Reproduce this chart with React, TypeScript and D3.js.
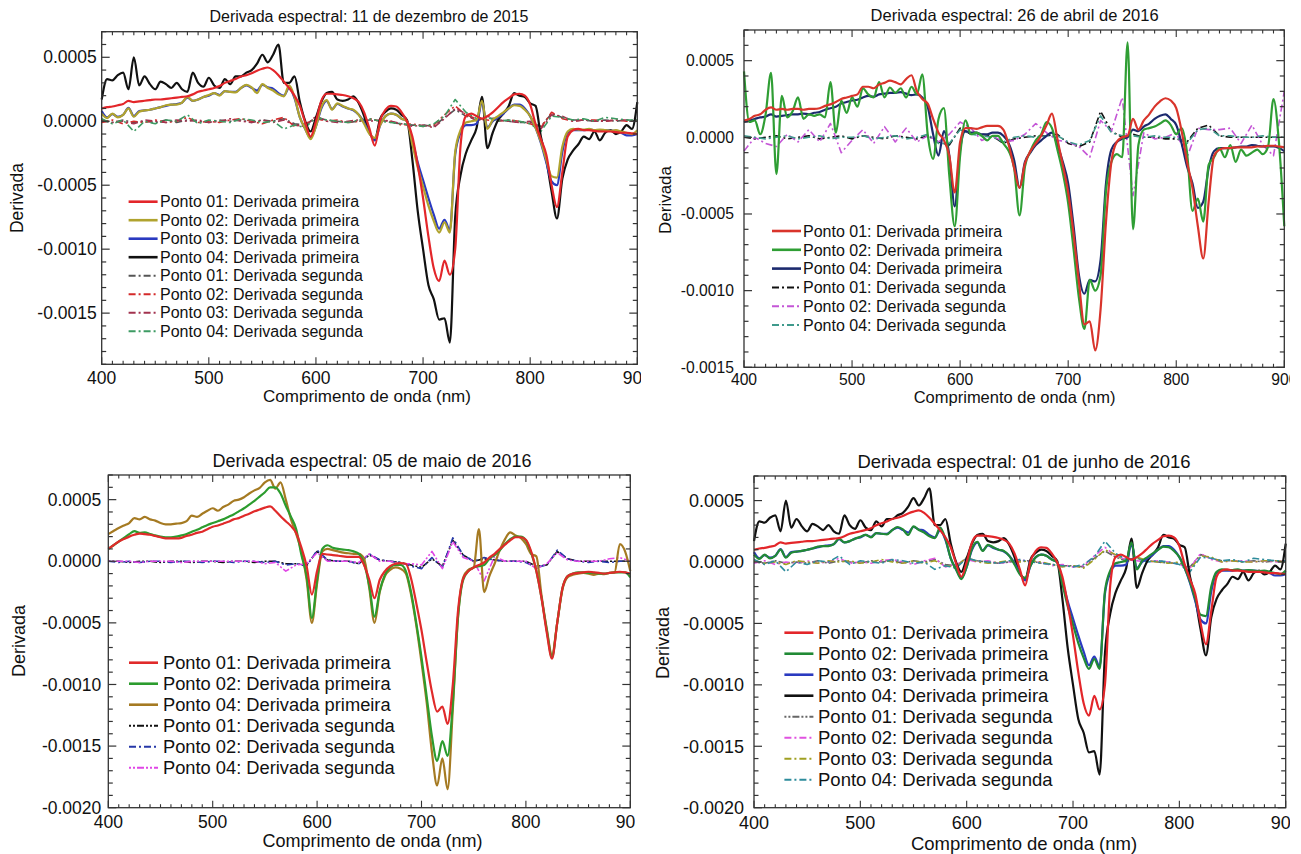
import React from 'react';
import * as d3 from 'd3';

// wavelength grids (nm)
const wavelength5 = [
  400, 405, 410, 415, 420, 425, 430, 435, 440, 445,
  450, 455, 460, 465, 470, 475, 480, 485, 490, 495,
  500, 505, 510, 515, 520, 525, 530, 535, 540, 545,
  550, 555, 560, 565, 570, 575, 580, 585, 590, 595,
  600, 605, 610, 615, 620, 625, 630, 635, 640, 645,
  650, 655, 660, 665, 670, 675, 680, 685, 690, 695,
  700, 705, 710, 715, 720, 725, 730, 735, 740, 745,
  750, 755, 760, 765, 770, 775, 780, 785, 790, 795,
  800, 805, 810, 815, 820, 825, 830, 835, 840, 845,
  850, 855, 860, 865, 870, 875, 880, 885, 890, 895,
  900,
];
const wavelength10 = [
  400, 410, 420, 430, 440, 450, 460, 470, 480, 490,
  500, 510, 520, 530, 540, 550, 560, 570, 580, 590,
  600, 610, 620, 630, 640, 650, 660, 670, 680, 690,
  700, 710, 720, 730, 740, 750, 760, 770, 780, 790,
  800, 810, 820, 830, 840, 850, 860, 870, 880, 890,
  900,
];

// all derivative values below are in units of 1e-4

// 11 de dezembro de 2015 (same curves shown again for 01 de junho de 2016)
const dez01First = [
  1.0, 1.1, 1.15, 1.25, 1.35, 1.6, 1.5, 1.55, 1.6, 1.65,
  1.7, 1.7, 1.75, 1.8, 1.85, 1.9, 1.95, 2.1, 2.3, 2.4,
  2.5, 2.6, 2.75, 3.0, 3.15, 3.3, 3.5, 3.6, 3.75, 3.95,
  4.1, 4.2, 4.0, 3.6, 3.1, 2.6, 2.0, 1.2, -0.1, -1.2,
  0.0, 1.6, 2.15, 2.15, 2.1, 2.05, 1.95, 1.8, 1.5, 0.7,
  -0.6, -1.9, 0.1, 0.9, 1.2, 1.15, 0.7, 0.0, -1.2, -3.4,
  -6.0, -9.0, -11.5, -12.5, -10.9, -12.0, -10.0, -1.9, 0.4, 0.6,
  0.4, 0.2, 0.4, 0.7, 1.1, 1.5, 1.8, 2.1, 2.15, 2.0,
  1.3, -0.2, -1.4, -2.6, -5.0, -6.7, -4.0, -1.2, -0.7, -0.6,
  -0.7, -0.7, -0.75, -0.8, -0.8, -0.8, -0.85, -0.9, -0.9, -0.95,
  -1.0,
];
const dez02First = [
  0.6, 0.25, 0.6, 0.3, 0.5, 1.0, 0.35, 0.75, 0.85, 0.9,
  1.0, 1.1, 1.25, 1.3, 1.3, 1.45, 1.9, 1.6, 1.7, 1.9,
  2.05, 2.2, 2.0, 2.35, 2.3, 2.25, 2.6, 2.85, 2.65, 2.2,
  2.9, 2.6, 2.4, 2.1, 1.95, 2.8, 1.9, 0.3, -0.6, -1.4,
  -0.4, 1.1, 1.65, 0.9, 1.4, 1.2, 1.0, 0.9, 0.5, -0.2,
  -1.0, -1.3, -0.3, 0.4, 0.6, 0.5, 0.2, 0.0, -1.8, -3.6,
  -5.1, -6.6, -7.8, -8.7, -7.9, -8.7, -2.4, -0.7, -0.1, 0.0,
  0.1, 1.6, -0.6, 0.1, 0.4, 0.7, 1.0, 1.25, 1.2, 0.9,
  0.4, -0.5, -1.6, -3.0, -4.3, -4.4, -2.0, -0.8, -0.6, -0.65,
  -0.65, -0.6, -0.7, -0.65, -0.7, -0.75, -0.7, -0.8, -0.9, -1.0,
  -0.7,
];
const dez03First = [
  0.8, 0.3, 0.55, 0.35, 0.5, 1.05, 0.4, 0.8, 0.85, 0.9,
  1.0, 1.1, 1.2, 1.3, 1.35, 1.45, 1.85, 1.6, 1.7, 1.9,
  2.0, 2.2, 2.05, 2.35, 2.3, 2.3, 2.6, 2.8, 2.6, 2.4,
  2.85, 2.65, 2.55, 2.2, 2.0, 2.6, 1.8, 0.3, -0.6, -1.3,
  -0.4, 1.0, 1.6, 0.95, 1.35, 1.15, 1.0, 0.85, 0.5, -0.1,
  -0.9, -1.5, -0.3, 0.4, 0.6, 0.5, 0.2, 0.0, -1.5, -3.2,
  -4.6, -6.0, -7.3, -8.4, -7.7, -8.5, -2.6, -0.9, -0.3, -0.3,
  -0.2, 1.5, -0.5, 0.0, 0.3, 0.6, 1.0, 1.3, 1.3, 1.0,
  0.4, -0.5, -1.7, -3.2, -4.7, -5.0, -2.4, -0.9, -0.7, -0.7,
  -0.7, -0.65, -0.7, -0.7, -0.7, -0.75, -0.75, -0.9, -1.1, -1.1,
  -1.0,
];
const dez04First = [
  1.7, 3.3, 3.2, 3.6, 3.8, 2.5, 5.0, 2.8, 3.5, 2.9,
  2.5, 3.1, 2.9, 2.6, 3.0, 2.5, 2.3, 3.8, 3.0, 2.7,
  3.4, 2.8, 2.6, 3.3, 2.9, 3.5, 3.5, 3.8, 4.0, 4.5,
  5.2, 4.6, 5.2, 6.0, 3.0, 3.0, 3.5, 1.5, 0.0, -0.8,
  0.3, 1.5, 2.2, 2.3, 1.7, 1.6, 1.7, 1.95, 1.4, 0.4,
  -0.9, -1.4, 0.2, 0.75, 1.0, 0.9, 0.5, 0.1, -3.0, -7.0,
  -10.0, -12.8, -13.9, -15.5, -15.4, -17.3, -7.5, -4.2, -2.5, -1.5,
  -0.5, 1.9, -2.1, -0.9, 0.1, 0.6, 1.2, 2.2, 2.0, 1.9,
  1.4, 1.2, -1.2, -3.0, -5.5, -7.6, -4.5, -3.0, -2.3, -1.8,
  -1.2, -1.4, -0.8, -1.5, -0.9, -0.7, -1.0, -0.8, -0.3, -0.6,
  1.5,
];
const dez01Second = [
  0.0, -0.1, 0.1, -0.1, 0.0, -0.1, 0.1, -0.1, 0.1, 0.0,
  -0.1, 0.1, 0.0, 0.1, -0.1, 0.1, 0.0, 0.2, -0.2, -0.3,
  0.3, 0.1, 0.0, -0.1, 0.0, 0.1, 0.1, -0.1, -0.2, -0.3,
  -0.3, -0.4, 0.3, 0.9, 0.4, 0.1, 0.3, 0.1, 0.0, -0.1,
  -0.1, -0.4, 0.6, 0.3, 0.1, 0.1, 0.0, 0.1, 0.0, 0.1,
  0.0,
];
const dez02Second = [
  -0.1, 0.1, -0.2, 0.0, -0.1, 0.1, -0.1, 0.0, 0.3, -0.1,
  0.0, -0.1, 0.1, 0.2, 0.0, -0.2, 0.1, 0.3, -0.4, -0.2,
  0.2, 0.0, 0.1, -0.1, 0.0, 0.2, 0.0, 0.0, -0.3, -0.2,
  -0.4, -0.3, 0.5, 1.2, 0.5, 0.2, 0.1, 0.0, 0.1, 0.0,
  -0.2, -0.5, 0.7, 0.2, 0.0, 0.1, 0.1, 0.0, 0.1, 0.0,
  0.1,
];
const dez03Second = [
  0.1, -0.1, 0.0, -0.2, 0.1, 0.0, -0.1, 0.1, 0.0, 0.1,
  -0.1, 0.0, 0.2, 0.0, -0.1, 0.1, -0.1, 0.1, -0.3, -0.4,
  0.4, 0.0, -0.1, 0.0, 0.1, 0.0, 0.1, 0.0, -0.2, -0.4,
  -0.3, -0.5, 0.2, 1.0, 0.6, 0.0, 0.4, 0.1, 0.0, -0.1,
  0.0, -0.6, 0.5, 0.4, 0.0, 0.1, 0.0, 0.0, 0.1, 0.1,
  0.0,
];
const dez04Second = [
  0.2, -0.2, 0.1, -0.8, 0.0, -0.2, 0.1, 0.0, 0.5, -0.2,
  0.1, 0.0, -0.1, 0.2, 0.1, -0.1, 0.0, -0.6, -0.3, -0.5,
  0.3, 0.1, 0.0, -0.1, 0.1, 0.2, 0.0, -0.1, -0.2, -0.3,
  -0.4, -0.2, 0.4, 1.7, 0.7, 0.2, 0.3, 0.0, 0.1, 0.0,
  -0.2, -0.8, 0.4, 0.3, 0.1, 0.2, 0.0, 0.3, 0.2, 0.1,
  0.1,
];

// 26 de abril de 2016
const abr01First = [
  1.1, 1.2, 1.4, 1.5, 1.8, 1.95, 1.8, 1.85, 1.8, 1.85,
  1.85, 1.8, 1.85, 1.85, 1.9, 2.05, 2.15, 2.3, 2.5, 2.6,
  2.7, 2.8, 3.3, 3.3, 3.2, 3.45, 3.55, 3.7, 3.6, 3.45,
  3.8, 4.05, 3.0, 2.5, 2.2, 1.2, 0.3, -0.2, -1.2, -3.6,
  -0.3, 0.6, 0.6, 0.55, 0.65, 0.75, 0.75, 0.75, 0.5, -0.5,
  -2.0, -3.3, -1.7, -0.9, -0.4, 0.1, 0.8, 1.55, -0.1, -1.8,
  -3.6, -6.3, -9.5, -12.2, -12.0, -13.9, -11.2, -5.5, -1.6, -0.3,
  0.0, 0.1, 1.2, 0.5, 1.1, 1.5, 2.0, 2.35, 2.55, 2.4,
  1.9, 0.4, -1.6, -3.3, -5.8, -7.9, -4.2, -1.2, -0.8, -0.7,
  -0.7, -0.65, -0.65, -0.65, -0.65, -0.6, -0.6, -0.55, -0.55, -0.6,
  -0.65,
];
const abr02First = [
  4.3, 1.0, 1.1, 0.2, 1.5, 4.2, -2.4, 2.7, 1.3, 1.7,
  2.6, 1.2, 1.5, 1.4, 1.5, 1.3, 3.6, 0.3, 2.4, 1.6,
  2.6, 2.0, 3.2, 2.8, 2.6, 3.6, 2.6, 3.25, 2.9, 3.2,
  2.6, 3.3, 2.8, 4.1, 0.2, -1.4, 1.2, 1.9, -2.5, -5.8,
  -1.2, 1.1, 0.2, 0.3, 0.1, -0.2, 0.1, 0.1, -0.4, -0.9,
  -2.0, -5.1, -1.9, -0.9, -0.2, 0.2, 1.0, 0.6, -0.8, -2.3,
  -4.3, -7.3, -10.5, -12.5, -9.3, -10.0, -9.0, -3.5, -1.6, -1.1,
  -1.3, 6.2, -6.0, -0.5, 0.5, 0.6, 0.7, 0.9, 1.1, 0.8,
  0.2, 0.6, -1.0, -4.8, -4.0, -5.5, -1.8, -1.3, -0.7, -1.3,
  -0.5, -1.6, -0.8, -1.2, -1.0, -0.8, -1.1, -0.6, 2.5, -0.3,
  -5.8,
];
const abr04First = [
  1.0, 1.1, 1.2, 1.3, 1.35, 1.5, 1.35, 1.4, 1.45, 1.5,
  1.5, 1.55, 1.5, 1.6, 1.65, 1.8, 1.9, 2.0, 2.2, 2.3,
  2.4, 2.45, 2.6, 2.7, 2.65, 2.8, 2.85, 2.9, 2.9, 2.95,
  2.85, 2.75, 2.8, 2.6, 2.0, 0.2, -1.2, 0.4, -1.2, -4.5,
  -0.8, 0.4, 0.3, 0.3, 0.2, 0.2, 0.3, 0.3, 0.1, -0.4,
  -1.5, -3.3, -1.6, -1.0, -0.5, -0.2, 0.1, 0.3, -0.5, -1.6,
  -3.0, -5.8, -9.0, -10.2, -9.3, -9.4, -8.0, -3.0, -0.8, -0.3,
  -0.1, 0.0, 0.5, 0.4, 0.7, 0.9, 1.2, 1.4, 1.5, 1.2,
  0.8, -0.4, -1.9, -3.0, -4.6, -4.2, -2.0, -0.9, -0.7, -0.7,
  -0.7, -0.65, -0.6, -0.6, -0.5, -0.55, -0.6, -0.6, -0.6, -0.7,
  -0.9,
];
const abr01Second = [
  0.0, -0.1, 0.0, 0.1, -0.1, 0.0, 0.1, -0.1, 0.0, 0.1,
  -0.1, 0.1, 0.0, -0.1, 0.1, 0.0, -0.1, 0.1, -0.3, -0.5,
  0.6, 0.2, 0.2, 0.1, -0.4, -0.1, 0.0, 0.1, 0.1, 0.2,
  -0.4, -0.6, -0.3, 1.7, 0.4, 0.0, 0.2, 0.0, 0.0, -0.1,
  -0.1, -0.3, 0.6, 0.8, 0.1, 0.0, 0.0, 0.0, 0.0, 0.0,
  0.0,
];
const abr02Second = [
  -0.9, 0.0, -0.4, -0.6, 0.2, -0.3, 0.5, -0.3, 0.9, -1.0,
  -0.2, 0.5, -0.4, 0.7, -0.3, 0.6, -0.3, 0.1, -0.3, 0.2,
  1.0, 0.6, -0.2, 0.1, -0.3, -0.2, 0.2, 0.9, 0.3, -0.2,
  -0.3, -0.6, -1.3, 1.1, 0.4, 2.6, -3.8, 0.3, -0.1, 0.0,
  0.3, -1.3, 0.6, 0.5, 0.5, 0.6, -0.4, 0.8, -0.5, -1.2,
  3.0,
];
const abr04Second = [
  0.1, 0.0, -0.1, 0.0, 0.1, -0.1, 0.0, 0.1, -0.1, 0.0,
  0.0, 0.1, -0.1, 0.0, 0.1, -0.1, 0.0, 0.2, -0.4, -0.4,
  0.5, 0.2, 0.1, 0.0, -0.3, 0.0, 0.1, 0.0, 0.1, 0.1,
  -0.3, -0.5, -0.2, 1.4, 0.3, 0.1, 0.1, 0.0, 0.1, 0.0,
  0.0, -0.4, 0.5, 0.6, 0.1, 0.1, 0.0, 0.0, 0.1, 0.0,
  0.0,
];

// 05 de maio de 2016
const mai01First = [
  1.0, 1.3, 1.6, 1.8, 2.0, 2.15, 2.25, 2.2, 2.15, 2.05,
  1.95, 1.85, 1.85, 1.85, 1.9, 2.05, 2.15, 2.3, 2.4, 2.6,
  2.8, 2.9, 3.05, 3.2, 3.4, 3.5, 3.7, 3.85, 4.05, 4.2,
  4.35, 4.45, 4.1, 3.65, 3.25, 2.85, 2.3, 1.1, -0.4, -2.7,
  -0.8, 0.6, 0.55, 0.5, 0.45, 0.4, 0.35, 0.35, 0.35, -0.3,
  -1.5, -3.0, -1.5, -0.8, -0.4, -0.2, -0.15, -0.2, -1.4, -3.4,
  -5.6, -8.2, -10.6, -12.2, -11.8, -13.2, -10.0, -4.0, -1.4, -0.8,
  -0.5, -0.3, -0.1, 0.3, 0.6, 1.0, 1.35, 1.7, 1.95, 1.95,
  1.75, 0.8, -0.8, -3.0, -5.8, -7.9, -5.0, -2.2, -1.2, -1.0,
  -0.95, -0.9, -0.85, -0.9, -0.95, -1.0, -0.95, -0.9, -0.85, -0.9,
  -1.0,
];
const mai02First = [
  1.0, 1.3, 1.6, 1.9, 2.2, 2.45, 2.3, 2.35, 2.2, 2.1,
  2.0, 1.95, 1.95, 2.0, 2.1, 2.2, 2.4, 2.55, 2.75, 2.95,
  3.1, 3.25, 3.4, 3.6, 3.8, 4.05, 4.3, 4.6, 4.9, 5.25,
  5.6, 6.0, 6.0, 5.5, 4.5, 3.6, 2.6, 0.5, -1.2, -4.6,
  -1.5, 1.0, 1.3, 1.1, 1.0, 0.95, 0.9, 0.8, 0.6, -0.2,
  -2.0, -4.5, -2.4, -1.1, -0.5, -0.3, -0.3, -0.8, -2.5, -5.0,
  -7.8, -11.0, -14.2, -16.2, -14.6, -15.8, -11.5, -4.5, -1.5, -0.8,
  -0.5, -0.4, -0.3, 0.2, 0.5, 0.9, 1.4, 1.8, 2.0, 2.0,
  1.7, 0.7, -0.8, -3.0, -5.6, -7.8, -5.0, -2.2, -1.2, -1.0,
  -0.9, -0.9, -0.95, -0.95, -1.0, -1.0, -0.95, -0.9, -0.9, -0.9,
  -1.3,
];
const mai04First = [
  2.2, 2.45, 2.7, 2.9, 3.1, 3.5, 3.4, 3.6, 3.4, 3.3,
  3.1, 3.0, 3.0, 3.05, 3.1, 3.25, 3.7, 3.6, 3.85, 4.1,
  4.3, 4.1, 4.4, 4.6, 4.9, 5.0, 5.2, 5.5, 5.75, 5.95,
  6.4, 6.6, 5.9, 6.4, 5.0, 3.4, 2.2, 0.8, -1.5, -5.0,
  -1.8, 0.8, 1.0, 0.9, 0.8, 0.7, 0.65, 0.6, 0.6, 0.2,
  -2.2, -5.0, -2.5, -1.2, -0.7, -0.5, -0.6, -1.0, -2.7, -5.2,
  -8.2, -11.5, -15.5, -18.2, -16.0, -18.5, -12.0, -4.5, -1.3, -0.7,
  -0.5, 2.6, -2.5, -1.2, -0.2, 0.9, 1.8, 2.35, 2.1, 1.9,
  1.4, 0.6, 0.4, -2.8, -5.5, -7.6, -5.0, -2.3, -1.3, -1.1,
  -1.0, -0.95, -1.0, -1.1, -1.0, -1.05, -0.95, -0.9, 1.4, 0.8,
  -0.8,
];
const mai01Second = [
  0.0, 0.0, -0.1, 0.0, 0.0, -0.1, 0.0, 0.0, -0.1, 0.0,
  0.0, -0.1, 0.0, 0.0, -0.1, 0.0, 0.0, -0.2, -0.2, -0.3,
  0.8, 0.1, 0.0, 0.0, -0.2, 0.5, 0.1, 0.0, -0.1, -0.3,
  -0.5, 0.2, -0.4, 1.7, 0.5, 0.0, 0.2, 0.1, 0.0, 0.0,
  0.0, -0.4, -0.3, 0.8, 0.2, 0.0, 0.0, 0.0, 0.0, 0.0,
  0.0,
];
const mai02Second = [
  0.0, -0.1, 0.0, -0.1, 0.0, 0.0, -0.1, 0.0, 0.0, -0.1,
  0.0, 0.0, -0.1, 0.0, 0.0, -0.1, 0.0, -0.3, -0.2, -0.4,
  0.9, 0.1, 0.0, 0.0, -0.2, 0.6, 0.1, 0.0, -0.1, -0.4,
  -0.6, 0.3, -0.5, 1.9, 0.5, 0.0, 0.3, 0.1, 0.0, 0.0,
  -0.1, -0.5, -0.3, 0.9, 0.2, 0.0, -0.1, 0.0, -0.1, 0.0,
  0.0,
];
const mai04Second = [
  0.0, 0.0, 0.0, -0.1, 0.0, 0.0, 0.0, -0.1, 0.0, 0.0,
  0.0, 0.0, 0.0, 0.0, 0.0, -0.2, -0.1, -0.8, -0.3, -0.2,
  0.7, 0.0, 0.0, 0.0, -0.1, 0.6, 0.0, 0.0, -0.2, -0.2,
  -0.3, 0.8, -0.6, 1.6, 0.3, 0.0, -1.6, 0.4, 0.0, 0.0,
  0.0, -0.6, -0.2, 0.7, 0.1, 0.0, 0.0, 0.0, 0.2, 0.3,
  0.0,
];

const dashDot = '7 3 2 3';
const dotDotDash = '2 2 2 2 7 2';

type Series = { label: string; color: string; values: number[]; second?: boolean; dash?: string };

type PanelDef = {
  id: string;
  title: string;
  left: number; right: number; top: number; bottom: number;
  yMin: number; yMax: number;
  titleX: number; titleY: number; titleSize: number;
  tickSize: number; yGap: number; xLabelDy: number; clipRight: number;
  xTitleX: number; xTitleY: number; xTitleSize: number;
  yTitleX: number; yTitleY: number; yTitleSize: number;
  legX: number; legText: number; legY: number; legStep: number; legSize: number;
  series: Series[];
};

const panels: PanelDef[] = [
  {
    id: 'p1', title: 'Derivada espectral: 11 de dezembro de 2015',
    left: 101.7, right: 637.3, top: 31.7, bottom: 364.3, yMin: -19, yMax: 7,
    titleX: 369, titleY: 22, titleSize: 16,
    tickSize: 17.5, yGap: 5, xLabelDy: 20, clipRight: 641,
    xTitleX: 367, xTitleY: 402, xTitleSize: 17,
    yTitleX: 17, yTitleY: 198, yTitleSize: 17.5,
    legX: 128.6, legText: 160, legY: 201.7, legStep: 18.5, legSize: 16,
    series: [
      { label: 'Ponto 01: Derivada primeira', color: '#e3262a', values: dez01First },
      { label: 'Ponto 02: Derivada primeira', color: '#b0a32e', values: dez02First },
      { label: 'Ponto 03: Derivada primeira', color: '#2a3ac0', values: dez03First },
      { label: 'Ponto 04: Derivada primeira', color: '#111111', values: dez04First },
      { label: 'Ponto 01: Derivada segunda', color: '#555555', values: dez01Second, second: true, dash: dashDot },
      { label: 'Ponto 02: Derivada segunda', color: '#d42a2a', values: dez02Second, second: true, dash: dashDot },
      { label: 'Ponto 03: Derivada segunda', color: '#a2334f', values: dez03Second, second: true, dash: dashDot },
      { label: 'Ponto 04: Derivada segunda', color: '#3d9b63', values: dez04Second, second: true, dash: dashDot },
    ],
  },
  {
    id: 'p2', title: 'Derivada espectral: 26 de abril de 2016',
    left: 744, right: 1284.3, top: 30, bottom: 367.3, yMin: -15, yMax: 7,
    titleX: 1014.6, titleY: 21, titleSize: 16.5,
    tickSize: 15.7, yGap: 10, xLabelDy: 18, clipRight: 1290,
    xTitleX: 1014.6, xTitleY: 403, xTitleSize: 16.5,
    yTitleX: 665, yTitleY: 200, yTitleSize: 17,
    legX: 772, legText: 803, legY: 231, legStep: 18.8, legSize: 16,
    series: [
      { label: 'Ponto 01: Derivada primeira', color: '#d9342b', values: abr01First },
      { label: 'Ponto 02: Derivada primeira', color: '#2f9e34', values: abr02First },
      { label: 'Ponto 04: Derivada primeira', color: '#1c2a6e', values: abr04First },
      { label: 'Ponto 01: Derivada segunda', color: '#111111', values: abr01Second, second: true, dash: dashDot },
      { label: 'Ponto 02: Derivada segunda', color: '#c455d6', values: abr02Second, second: true, dash: dashDot },
      { label: 'Ponto 04: Derivada segunda', color: '#3f9a8c', values: abr04Second, second: true, dash: dashDot },
    ],
  },
  {
    id: 'p3', title: 'Derivada espectral: 05 de maio de 2016',
    left: 108.3, right: 630.3, top: 475, bottom: 807.7, yMin: -20, yMax: 7,
    titleX: 372, titleY: 467, titleSize: 18,
    tickSize: 17.5, yGap: 7, xLabelDy: 20, clipRight: 635,
    xTitleX: 372.5, xTitleY: 847, xTitleSize: 18,
    yTitleX: 19, yTitleY: 641, yTitleSize: 18,
    legX: 129, legText: 163, legY: 662.7, legStep: 21, legSize: 18.3,
    series: [
      { label: 'Ponto 01: Derivada primeira', color: '#e02a2a', values: mai01First },
      { label: 'Ponto 02: Derivada primeira', color: '#2c9c2e', values: mai02First },
      { label: 'Ponto 04: Derivada primeira', color: '#a57a22', values: mai04First },
      { label: 'Ponto 01: Derivada segunda', color: '#111111', values: mai01Second, second: true, dash: dotDotDash },
      { label: 'Ponto 02: Derivada segunda', color: '#2638a8', values: mai02Second, second: true, dash: dashDot },
      { label: 'Ponto 04: Derivada segunda', color: '#e046e6', values: mai04Second, second: true, dash: dotDotDash },
    ],
  },
  {
    id: 'p4', title: 'Derivada espectral: 01 de junho de 2016',
    left: 754, right: 1285.7, top: 476, bottom: 807.7, yMin: -20, yMax: 7,
    titleX: 1024, titleY: 468, titleSize: 18.5,
    tickSize: 18, yGap: 10, xLabelDy: 21.5, clipRight: 1290,
    xTitleX: 1024, xTitleY: 849.5, xTitleSize: 18.5,
    yTitleX: 663, yTitleY: 643, yTitleSize: 18,
    legX: 784.4, legText: 818, legY: 632.7, legStep: 21, legSize: 18.5,
    series: [
      { label: 'Ponto 01: Derivada primeira', color: '#e3262a', values: dez01First },
      { label: 'Ponto 02: Derivada primeira', color: '#218a35', values: dez02First },
      { label: 'Ponto 03: Derivada primeira', color: '#2a3ac0', values: dez03First },
      { label: 'Ponto 04: Derivada primeira', color: '#111111', values: dez04First },
      { label: 'Ponto 01: Derivada segunda', color: '#666666', values: dez01Second, second: true, dash: dotDotDash },
      { label: 'Ponto 02: Derivada segunda', color: '#e052e0', values: dez02Second, second: true, dash: dashDot },
      { label: 'Ponto 03: Derivada segunda', color: '#a0a022', values: dez03Second, second: true, dash: dashDot },
      { label: 'Ponto 04: Derivada segunda', color: '#2e8c9c', values: dez04Second, second: true, dash: dashDot },
    ],
  },
];

const fmt = (k: number) => (k * 1e-4).toFixed(4);

const Panel = ({ p }: { p: PanelDef }) => {
  const x = d3.scaleLinear().domain([400, 900]).range([p.left, p.right]);
  const y = d3.scaleLinear().domain([p.yMin, p.yMax]).range([p.bottom, p.top]);

  const path = (s: Series) => {
    const xs = s.second ? wavelength10 : wavelength5;
    return d3.line<number>()
      .x((_, i) => x(xs[i]))
      .y(v => y(v))
      .curve(s.second ? d3.curveLinear : d3.curveMonotoneX)(s.values) || '';
  };

  const yTicks = d3.range(p.yMin, p.yMax + 1);
  const xTicks = d3.range(400, 901, 10);
  // second derivatives underneath, Ponto 01 first derivative on top
  const ordered = [...p.series.filter(s => s.second), ...p.series.filter(s => !s.second).reverse()];

  return (
    <g>
      <clipPath id={`clip-${p.id}`}>
        <rect x={p.left - 40} y={p.bottom} width={p.clipRight - p.left + 40} height={40} />
      </clipPath>

      {ordered.map(s => (
        <path
          key={s.label}
          d={path(s)}
          fill="none"
          stroke={s.color}
          strokeWidth={s.second ? 1.6 : 2.2}
          strokeDasharray={s.dash}
          strokeLinejoin="round"
        />
      ))}

      <rect x={p.left} y={p.top} width={p.right - p.left} height={p.bottom - p.top}
        fill="none" stroke="#333" strokeWidth={1.3} />

      {yTicks.map(k => {
        const major = k % 5 === 0;
        const len = major ? 8 : 4.5;
        const yy = y(k);
        return (
          <g key={'y' + k}>
            <line x1={p.left} x2={p.left + len} y1={yy} y2={yy} stroke="#333" strokeWidth={1.2} />
            <line x1={p.right} x2={p.right - len} y1={yy} y2={yy} stroke="#333" strokeWidth={1.2} />
            {major && (
              <text x={p.left - p.yGap} y={yy} dy="0.35em" textAnchor="end" fontSize={p.tickSize} fill="#111">
                {fmt(k)}
              </text>
            )}
          </g>
        );
      })}

      {xTicks.map(t => {
        const major = t % 100 === 0;
        const len = major ? 7 : 3.5;
        const xx = x(t);
        return (
          <g key={'x' + t}>
            <line x1={xx} x2={xx} y1={p.bottom} y2={p.bottom - len} stroke="#333" strokeWidth={1.1} />
            <line x1={xx} x2={xx} y1={p.top} y2={p.top + len} stroke="#333" strokeWidth={1.1} />
          </g>
        );
      })}
      <g clipPath={`url(#clip-${p.id})`}>
        {xTicks.filter(t => t % 100 === 0).map(t => (
          <text key={'xl' + t} x={x(t)} y={p.bottom + p.xLabelDy} textAnchor="middle" fontSize={p.tickSize} fill="#111">
            {t}
          </text>
        ))}
      </g>

      <text x={p.titleX} y={p.titleY} textAnchor="middle" fontSize={p.titleSize} fill="#111">{p.title}</text>
      <text x={p.xTitleX} y={p.xTitleY} textAnchor="middle" fontSize={p.xTitleSize} fill="#111">
        Comprimento de onda (nm)
      </text>
      <text transform={`translate(${p.yTitleX},${p.yTitleY}) rotate(-90)`} dy="0.35em" textAnchor="middle"
        fontSize={p.yTitleSize} fill="#111">
        Derivada
      </text>

      {p.series.map((s, i) => {
        const ry = p.legY + i * p.legStep;
        return (
          <g key={'leg' + i}>
            <line x1={p.legX} x2={p.legX + 29} y1={ry} y2={ry} stroke={s.color}
              strokeWidth={s.second ? 2 : 2.6} strokeDasharray={s.dash} />
            <text x={p.legText} y={ry} dy="0.36em" fontSize={p.legSize} fill="#111">{s.label}</text>
          </g>
        );
      })}
    </g>
  );
};

export default function App() {
  return (
    <svg
      width={1301}
      height={854}
      style={{ position: 'absolute', left: 0, top: 0, background: '#fff' }}
      fontFamily="'Liberation Sans', Arial, sans-serif"
    >
      <rect width={1301} height={854} fill="#fff" />
      {panels.map(p => <Panel key={p.id} p={p} />)}
    </svg>
  );
}
